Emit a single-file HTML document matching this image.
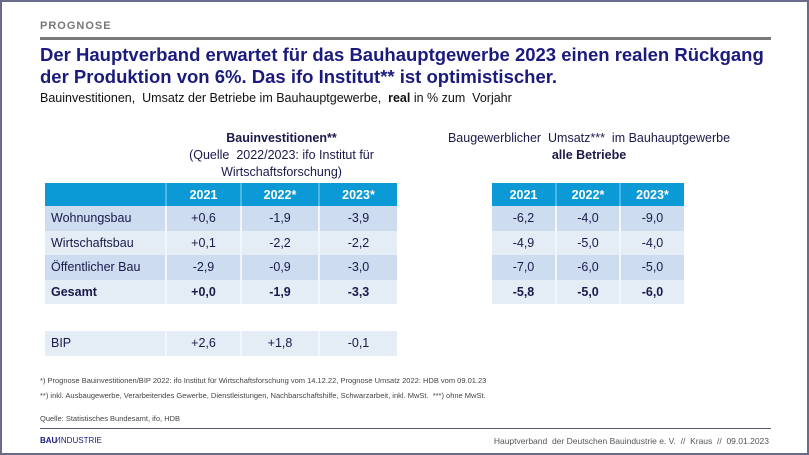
<!DOCTYPE html>
<html><head><meta charset="utf-8"><style>
*{margin:0;padding:0;box-sizing:border-box}
body{width:809px;height:455px;background:#fff;font-family:"Liberation Sans",Arial,sans-serif;position:relative;overflow:hidden}
.frame{position:absolute;left:0;top:0;width:809px;height:455px;border:2px solid #6a6a8a}
.a{position:absolute;white-space:nowrap}
.prog{left:40px;top:20px;font-size:11px;font-weight:bold;color:#777;letter-spacing:1px}
.gl{left:40px;top:37px;width:731px;height:3px;background:#7a7a7a}
.title{left:40px;top:44px;font-size:18.5px;font-weight:bold;color:#1b1b7e;line-height:22px}
.sub{left:40px;top:91px;font-size:12.5px;color:#111}
table{position:absolute;border-collapse:collapse;font-size:12.5px;color:#1a1a4a}
td{height:24.5px;text-align:center;border-right:2px solid #f2f5fa;padding:0}
td:last-child{border-right:none}
tr.h td{background:#0b9ad6;color:#fff;font-weight:bold;height:23px;border-right:2px solid #4db8e5}
tr.h td:last-child{border-right:none}
tr.o td{background:#cddcef}
tr.e td{background:#e4ecf6}
td.l{text-align:left;padding-left:6px}
.b td{font-weight:bold}
.cap{text-align:center;font-size:12.5px;color:#1a1a4a;line-height:17px}
.fn{font-size:7.5px;color:#444}
</style></head><body>
<div class="frame"></div>
<div class="a prog">PROGNOSE</div>
<div class="a gl"></div>
<div class="a title">Der Hauptverband erwartet für das Bauhauptgewerbe 2023 einen realen Rückgang<br>der Produktion von 6%. Das ifo Institut** ist optimistischer.</div>
<div class="a sub">Bauinvestitionen,&nbsp; Umsatz der Betriebe im Bauhauptgewerbe,&nbsp; <b>real</b> in % zum&nbsp; Vorjahr</div>

<div class="a cap" style="left:166px;top:130px;width:231px"><b>Bauinvestitionen**</b><br>(Quelle&nbsp; 2022/2023: ifo Institut für<br>Wirtschaftsforschung)</div>
<div class="a cap" style="left:430px;top:130px;width:318px">Baugewerblicher&nbsp; Umsatz***&nbsp; im Bauhauptgewerbe<br><b>alle Betriebe</b></div>

<table style="left:45px;top:183px;width:352px">
<colgroup><col style="width:121px"><col style="width:75px"><col style="width:78px"><col style="width:78px"></colgroup>
<tr class="h"><td style="background:#0b9ad6"></td><td>2021</td><td>2022*</td><td>2023*</td></tr>
<tr class="o"><td class="l">Wohnungsbau</td><td>+0,6</td><td>-1,9</td><td>-3,9</td></tr>
<tr class="e"><td class="l">Wirtschaftsbau</td><td>+0,1</td><td>-2,2</td><td>-2,2</td></tr>
<tr class="o"><td class="l">Öffentlicher Bau</td><td>-2,9</td><td>-0,9</td><td>-3,0</td></tr>
<tr class="e b"><td class="l">Gesamt</td><td>+0,0</td><td>-1,9</td><td>-3,3</td></tr>
</table>
<table style="left:45px;top:331px;width:352px">
<colgroup><col style="width:121px"><col style="width:75px"><col style="width:78px"><col style="width:78px"></colgroup>
<tr class="e"><td class="l">BIP</td><td>+2,6</td><td>+1,8</td><td>-0,1</td></tr>
</table>

<table style="left:492px;top:183px;width:192px">
<colgroup><col style="width:64px"><col style="width:64px"><col style="width:64px"></colgroup>
<tr class="h"><td>2021</td><td>2022*</td><td>2023*</td></tr>
<tr class="o"><td>-6,2</td><td>-4,0</td><td>-9,0</td></tr>
<tr class="e"><td>-4,9</td><td>-5,0</td><td>-4,0</td></tr>
<tr class="o"><td>-7,0</td><td>-6,0</td><td>-5,0</td></tr>
<tr class="e b"><td>-5,8</td><td>-5,0</td><td>-6,0</td></tr>
</table>

<div class="a fn" style="left:40px;top:376px">*) Prognose Bauinvestitionen/BIP 2022: ifo Institut für Wirtschaftsforschung vom 14.12.22, Prognose Umsatz 2022: HDB vom 09.01.23</div>
<div class="a fn" style="left:40px;top:391px">**) inkl. Ausbaugewerbe, Verarbeitendes Gewerbe, Dienstleistungen, Nachbarschaftshilfe, Schwarzarbeit, inkl. MwSt.&nbsp; ***) ohne MwSt.</div>
<div class="a fn" style="left:40px;top:414px">Quelle: Statistisches Bundesamt, ifo, HDB</div>
<div class="a" style="left:40px;top:428px;width:731px;height:1px;background:#555570"></div>
<div class="a" style="left:40px;top:436px;font-size:8px;color:#1b1b7e"><b>BAU</b>&#8260;INDUSTRIE</div>
<div class="a" style="right:40px;top:436px;font-size:8.5px;color:#555">Hauptverband&nbsp; der Deutschen Bauindustrie e. V.&nbsp; //&nbsp; Kraus&nbsp; //&nbsp; 09.01.2023</div>
</body></html>
